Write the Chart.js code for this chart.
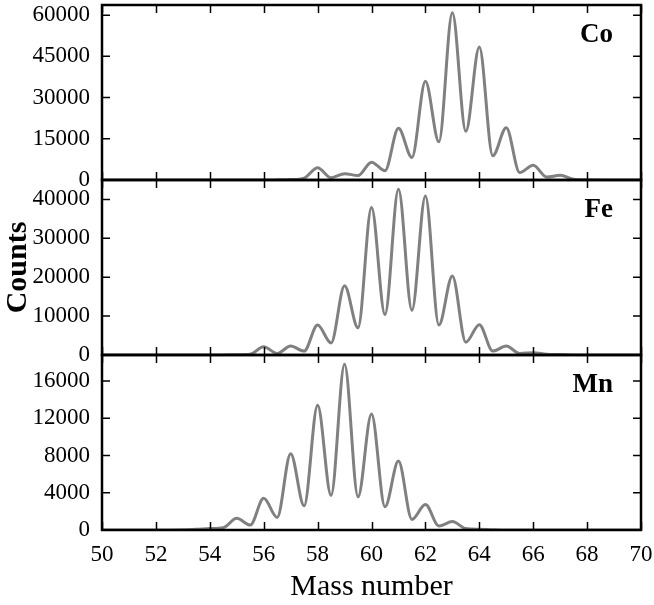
<!DOCTYPE html>
<html>
<head>
<meta charset="utf-8">
<script src="https://cdn.jsdelivr.net/npm/chart.js@4/dist/chart.umd.min.js"></script>
<style>
  html, body { margin: 0; padding: 0; background: #fff; }
  #wrap { width: 654px; height: 605px; }
</style>
</head>
<body>
<div id="wrap"><canvas id="c" width="654" height="605"></canvas></div>
<script>
// Mass numbers at which the curves were read (peaks on integers, valleys on halves)
const massNumbers = [50,51,52,53,53.5,54,54.5,55,55.5,56,56.5,57,57.5,58,58.5,59,59.5,60,60.5,61,61.5,62,62.5,63,63.5,64,64.5,65,65.5,66,66.5,67,67.5,68,69,70];

const coCounts = [0,0,0,0,0,0,0,0,0,0,50,150,700,4500,850,2300,1600,6500,3400,18800,8200,35900,13900,60900,17700,48400,8800,19000,2700,5400,1100,1700,300,50,0,0];
const feCounts = [0,0,0,0,0,0,20,80,200,2100,400,2300,1000,7700,3100,17800,7000,37900,10400,42600,11500,40900,7700,20300,3300,7800,1000,2300,400,600,200,100,30,0,0,0];
const mnCounts = [0,0,0,30,80,150,250,1250,530,3400,1350,8200,2600,13400,3730,17800,3560,12450,2490,7400,1140,2740,430,900,150,80,30,0,0,0,0,0,0,0,0,0];

const massTicks = [50,52,54,56,58,60,62,64,66,68,70];
const coTicks = [0,15000,30000,45000,60000];
const feTicks = [0,10000,20000,30000,40000];
const mnTicks = [0,4000,8000,12000,16000];

const elementNames = ['Co','Fe','Mn'];
const yMax = { Co: 63700, Fe: 45000, Mn: 18800 };

const FONT = '"Liberation Serif", "Times New Roman", serif';
const GRAY = '#808080';

function pts(vals) { return massNumbers.map((m, i) => ({ x: m, y: vals[i] })); }

const panels = [
  { name: elementNames[0], axis: 'yCo', ticks: coTicks },
  { name: elementNames[1], axis: 'yFe', ticks: feTicks },
  { name: elementNames[2], axis: 'yMn', ticks: mnTicks }
];

const framePlugin = {
  id: 'frame',
  afterDatasetsDraw(chart) {
    const { ctx, chartArea: ca, scales } = chart;
    const xs = scales.x;
    ctx.save();
    panels.forEach(p => {
      const ys = scales[p.axis];
      const top = ys.top, bot = ys.bottom;
      ctx.strokeStyle = '#000';
      ctx.lineWidth = 1.5;
      ctx.beginPath();
      massTicks.forEach(v => {
        const px = Math.round(xs.getPixelForValue(v)) + 0.5;
        ctx.moveTo(px, bot); ctx.lineTo(px, bot - 8);
        ctx.moveTo(px, top); ctx.lineTo(px, top + 8);
      });
      p.ticks.forEach(v => {
        const py = ys.getPixelForValue(v);
        ctx.moveTo(ca.left, py); ctx.lineTo(ca.left + 8, py);
        ctx.moveTo(ca.right, py); ctx.lineTo(ca.right - 8, py);
      });
      ctx.stroke();
      ctx.lineWidth = 2.5;
      ctx.strokeRect(ca.left, top, ca.right - ca.left, bot - top);
      ctx.font = 'bold 27px ' + FONT;
      ctx.textAlign = 'right';
      ctx.textBaseline = 'middle';
      ctx.fillStyle = '#000';
      ctx.fillText(p.name, ca.right - 28, top + 30);
    });
    ctx.restore();
  }
};

function yScale(max, ticks, title) {
  return {
    type: 'linear',
    position: 'left',
    stack: 'panels',
    stackWeight: 1,
    min: 0,
    max: max,
    grid: { display: false, drawTicks: false },
    border: { display: false },
    ticks: {
      color: '#000', padding: 12, autoSkip: false,
      font: { family: FONT, size: 23 },
      callback: (v) => String(v)
    },
    title: title
      ? { display: true, text: title, color: '#000', padding: { top: 0, bottom: 0 }, font: { family: FONT, size: 30, weight: 'bold' } }
      : { display: false },
    afterBuildTicks: (s) => { s.ticks = ticks.map(v => ({ value: v })); },
    afterFit: (s) => { s.width = 102; s.paddingTop = 0; s.paddingBottom = 0; }
  };
}

const lineStyle = {
  borderColor: GRAY,
  borderWidth: 3,
  pointRadius: 0,
  fill: false,
  cubicInterpolationMode: 'monotone'
};

new Chart(document.getElementById('c'), {
  type: 'line',
  data: {
    datasets: [
      Object.assign({ label: elementNames[2], data: pts(mnCounts), yAxisID: 'yMn' }, lineStyle),
      Object.assign({ label: elementNames[1], data: pts(feCounts), yAxisID: 'yFe' }, lineStyle),
      Object.assign({ label: elementNames[0], data: pts(coCounts), yAxisID: 'yCo' }, lineStyle)
    ]
  },
  options: {
    responsive: false,
    animation: false,
    devicePixelRatio: 1,
    layout: { padding: { top: 5, right: 13, left: 0, bottom: 0 } },
    plugins: { legend: { display: false }, tooltip: { enabled: false } },
    scales: {
      x: {
        type: 'linear',
        min: 50, max: 70,
        grid: { display: false, drawTicks: false },
        border: { display: false },
        ticks: {
          color: '#000', padding: 11, maxRotation: 0, autoSkip: false,
          font: { family: FONT, size: 23 },
          callback: (v) => String(v)
        },
        afterBuildTicks: (s) => { s.ticks = massTicks.map(v => ({ value: v })); },
        afterFit: (s) => { s.height = 75; s.paddingLeft = 0; s.paddingRight = 0; },
        title: { display: true, text: 'Mass number', color: '#000', padding: { top: 0, bottom: 0 }, font: { family: FONT, size: 30 } }
      },
      yMn: yScale(yMax.Mn, mnTicks, null),
      yFe: yScale(yMax.Fe, feTicks, 'Counts'),
      yCo: yScale(yMax.Co, coTicks, null)
    }
  },
  plugins: [framePlugin]
});
</script>
</body>
</html>
